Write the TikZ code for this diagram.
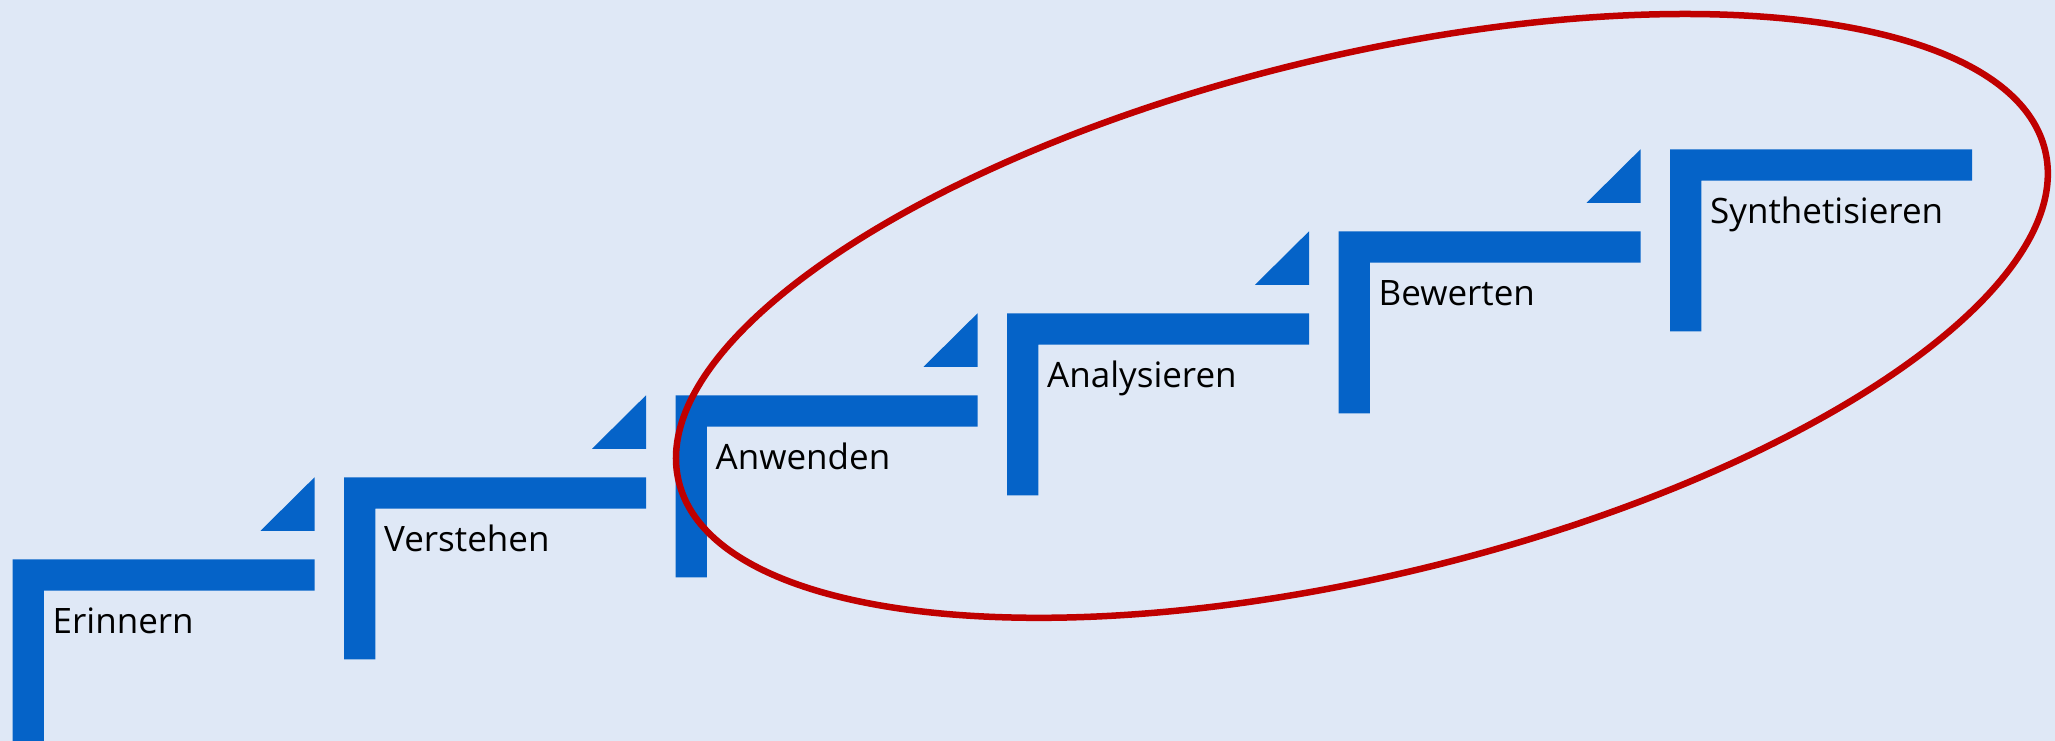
\documentclass[tikz,border=0pt]{standalone}
\usepackage{fontspec}
\setmainfont{Open Sans}
\definecolor{bg}{HTML}{DFE8F6}
\definecolor{stepblue}{HTML}{0563C8}
\definecolor{ringred}{HTML}{C00000}
\begin{document}
\begin{tikzpicture}[x=1pt,y=-1pt,
  stepshape/.style={fill=stepblue},
  steptext/.style={anchor=base west, inner sep=0pt, font=\fontsize{35pt}{42pt}\selectfont, text=black},
  ring/.style={draw=ringred, line width=6.5pt}]
\useasboundingbox (0,0) rectangle (2055,741);
\fill[bg] (0,0) rectangle (2055,741);
\foreach \k/\nm/\txt in {0/erinnern/Erinnern,1/verstehen/Verstehen,2/anwenden/Anwenden,3/analysieren/Analysieren,4/bewerten/Bewerten,5/synth/Synthetisieren}{
  \pgfmathsetmacro\xa{12.5+331.5*\k}
  \pgfmathsetmacro\ya{559.3-82*\k}
  \fill[stepshape] (\xa,\ya) -- ++(302,0) -- ++(0,31.3) -- ++(-270.7,0) -- ++(0,150.7) -- ++(-31.3,0) -- cycle;
  \node[steptext] (\nm) at (\xa+40,\ya+74.5) {\txt};
}
\foreach \k in {1,...,5}{
  \pgfmathsetmacro\xr{12.5+331.5*(\k-1)+302}
  \pgfmathsetmacro\ya{559.3-82*\k}
  \fill[stepshape] (\xr-54,\ya+53.5) -- (\xr,\ya+53.5) -- (\xr,\ya) -- cycle;
}
\draw[ring, rotate around={13.63:(1361.9,315.9)}] (1361.9,315.9) ellipse [x radius=702.96pt, y radius=259.7pt];
\end{tikzpicture}
\end{document}
